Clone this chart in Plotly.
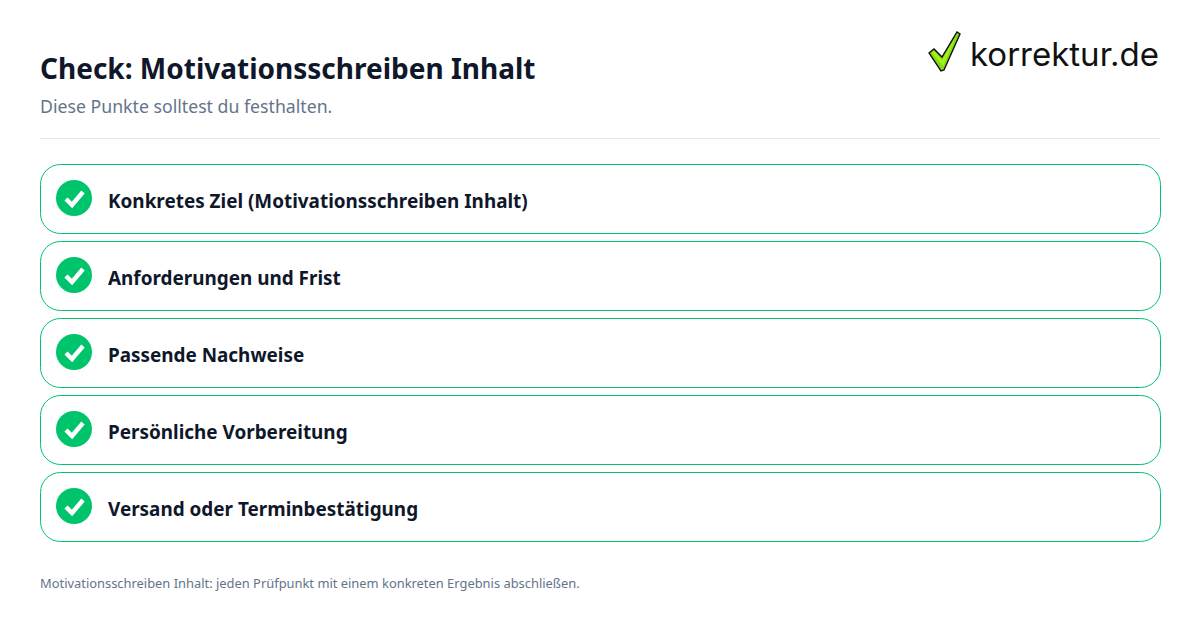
import plotly.graph_objects as go

title = "Check: Motivationsschreiben Inhalt"
subtitle = "Diese Punkte solltest du festhalten."
items = [
    "Konkretes Ziel (Motivationsschreiben Inhalt)",
    "Anforderungen und Frist",
    "Passende Nachweise",
    "Persönliche Vorbereitung",
    "Versand oder Terminbestätigung",
]
footer = "Motivationsschreiben Inhalt: jeden Prüfpunkt mit einem konkreten Ergebnis abschließen."
logo_text = "korrektur.de"

FONT = "Noto Sans"
GREEN = "#00C46C"
INK = "#0F172A"
MUTED = "#64748B"


def rounded(x0, y0, x1, y1, r):
    k = r * 0.45
    return (
        f"M{x0+r},{y0} L{x1-r},{y0} C{x1-k},{y0} {x1},{y0+k} {x1},{y0+r} "
        f"L{x1},{y1-r} C{x1},{y1-k} {x1-k},{y1} {x1-r},{y1} "
        f"L{x0+r},{y1} C{x0+k},{y1} {x0},{y1-k} {x0},{y1-r} "
        f"L{x0},{y0+r} C{x0},{y0+k} {x0+k},{y0} {x0+r},{y0} Z"
    )


shapes = [dict(type="line", x0=40, x1=1160, y0=138.5, y1=138.5,
               line=dict(color="#E2E8F0", width=1), layer="below")]
annotations = []


def text(x, y, s, size, color, weight=400, anchor="left", family=FONT):
    annotations.append(dict(x=x, y=y, text=s, showarrow=False, xanchor=anchor, yanchor="middle",
                            xref="x", yref="y", align="left", borderpad=0, borderwidth=0,
                            font=dict(family=family, size=size, color=color, weight=weight)))


text(40, 68, title, 28, INK, 700)
text(40, 105.5, subtitle, 17.7, MUTED)
text(40, 583, footer, 12.9, MUTED)

centers_x, centers_y = [], []
for i, label in enumerate(items):
    top = 164.5 + 77 * i
    shapes.append(dict(type="path", path=rounded(40.5, top, 1160.5, top + 69, 20),
                       line=dict(color=GREEN, width=1), fillcolor="white", layer="below"))
    cy = top + 33.5
    centers_x.append(74)
    centers_y.append(cy)
    shapes.append(dict(type="path",
                       path=f"M66,{cy+1} L72,{cy+7} L83,{cy-6}",
                       line=dict(color="white", width=4.5), layer="above"))
    text(108, top + 36, label, 18.9, INK, 700)

circles = go.Scatter(x=centers_x, y=centers_y, mode="markers", hoverinfo="skip",
                     marker=dict(size=36, color=GREEN, line=dict(width=0)))

# logo check mark
shapes.append(dict(type="path",
                   path="M929,53 L934,49 L942,57 L957,32 L960,34 L944,70 L941,71 Z",
                   fillcolor="#86DC12", line=dict(color="#111111", width=1.4), layer="above"))
shapes.append(dict(type="path",
                   path="M932,53 L934,51 L942,60 L956,37 L943,66 Z",
                   fillcolor="#A6F01E", line=dict(width=0), layer="above"))
text(970, 54, logo_text, 33, "#111111", 400, family="Inter")

fig = go.Figure(circles)
fig.update_layout(
    width=1200, height=630, margin=dict(l=0, r=0, t=0, b=0),
    paper_bgcolor="white", plot_bgcolor="white", showlegend=False,
    xaxis=dict(range=[0, 1200], visible=False, fixedrange=True),
    yaxis=dict(range=[630, 0], visible=False, fixedrange=True),
    shapes=shapes, annotations=annotations,
)
fig.write_html("out.html", config=dict(displayModeBar=False),
               default_width=1200, default_height=630,
               post_script="document.body.style.margin='0';document.body.style.overflow='hidden';")
